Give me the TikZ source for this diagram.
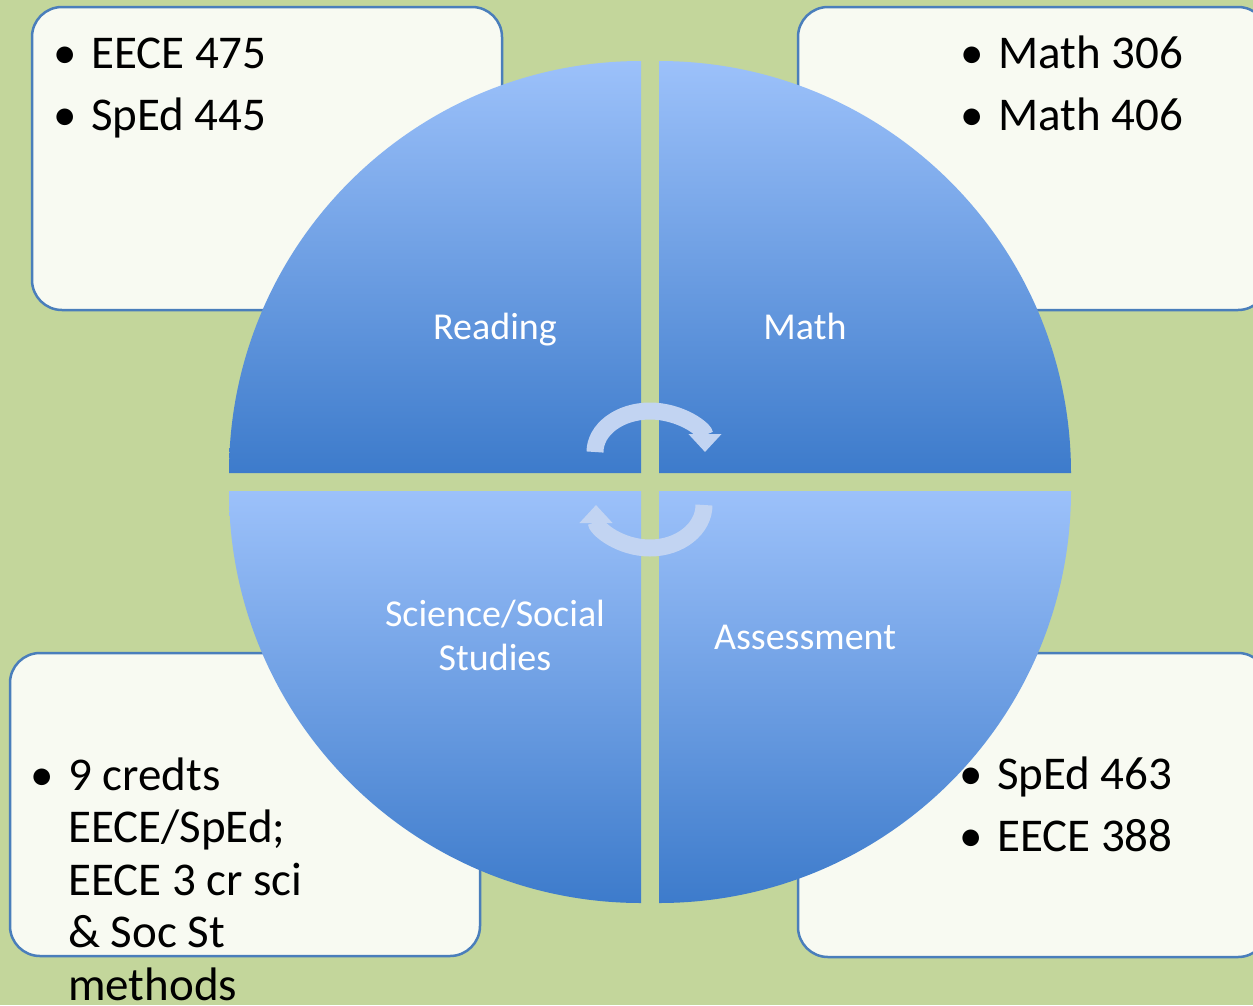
\documentclass[tikz,border=0pt]{standalone}
\usepackage{fontspec}
\setmainfont{Carlito}
\usetikzlibrary{arrows.meta}
\definecolor{bggreen}{HTML}{C3D69B}
\definecolor{boxfill}{HTML}{F8FAF2}
\definecolor{boxline}{HTML}{4A7EBB}
\definecolor{quartop}{HTML}{9CC1FA}
\definecolor{quarbot}{HTML}{3D7BCB}
\definecolor{arrowblue}{HTML}{C2D4F2}
\tikzstyle{side box}=[draw=boxline, fill=boxfill, line width=2.5pt, rounded corners=30pt]
\tikzstyle{quarter}=[top color=quartop, bottom color=quarbot]
\tikzstyle{item}=[anchor=base west, inner sep=0pt, font=\fontsize{47}{52}\selectfont]
\tikzstyle{quarter label}=[anchor=base, inner sep=0pt, white, font=\fontsize{38}{44}\selectfont]
\tikzstyle{cycle arrow}=[arrowblue, line width=17pt, -{Triangle[width=32pt,length=18pt]}]
\newcommand{\itemdot}{\llap{\textbullet\hspace{14pt}}}

\begin{document}
\begin{tikzpicture}[x=1pt,y=-1pt]
    \useasboundingbox (0,0) rectangle (1253,1005);
    \fill[bggreen] (0,0) rectangle (1253,1005);

    % Course boxes
    \draw[side box] (32,7) rectangle (502,310);
    \draw[side box] (798,7) rectangle (1268,310);
    \draw[side box] (10,653) rectangle (480,956);
    \draw[side box] (798,653) rectangle (1268,957);

    % Quarters
    \shade[quarter] (641,473) -- (229,473) arc[start angle=180, end angle=270, radius=412] -- cycle;
    \shade[quarter] (659,473) -- (659,61) arc[start angle=270, end angle=360, radius=412] -- cycle;
    \shade[quarter] (641,491) -- (229,491) arc[start angle=180, end angle=90, radius=412] -- cycle;
    \shade[quarter] (659,491) -- (1071,491) arc[start angle=0, end angle=90, radius=412] -- cycle;

    % Cycle arrows
    \draw[cycle arrow] (595,452) arc[start angle=180, end angle=360, x radius=55, y radius=41];
    \draw[cycle arrow] (704,505) arc[start angle=0, end angle=180, x radius=54, y radius=43];

    % Labels
    \draw (495,339) node[quarter label] (reading) {Reading};
    \draw (805,339) node[quarter label] (math) {Math};
    \draw (495,626) node[quarter label] (science) {Science/Social};
    \draw (495,670) node[quarter label] (studies) {Studies};
    \draw (805,649) node[quarter label] (assess) {Assessment};

    % Courses
    \draw (91,68) node[item] (reada) {\itemdot EECE 475};
    \draw (91,130) node[item] (readb) {\itemdot SpEd 445};
    \draw (998,68) node[item] (matha) {\itemdot Math 306};
    \draw (998,130) node[item] (mathb) {\itemdot Math 406};
    \draw (997,789) node[item] (assessa) {\itemdot SpEd 463};
    \draw (997,851) node[item] (assessb) {\itemdot EECE 388};
    \draw (68,790) node[item] (scia) {\itemdot 9 credts};
    \draw (68,842) node[item] (scib) {EECE/SpEd;};
    \draw (68,895) node[item] (scic) {EECE 3 cr sci};
    \draw (68,947) node[item] (scid) {\& Soc St};
    \draw (68,1000) node[item] (scie) {methods};

\end{tikzpicture}
\end{document}
